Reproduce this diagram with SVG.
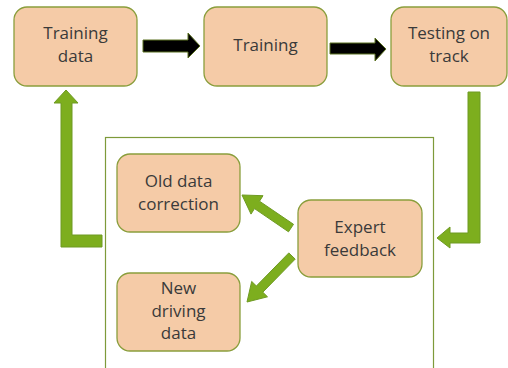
<svg xmlns="http://www.w3.org/2000/svg" width="508" height="368" viewBox="0 0 508 368">
<style>
.box{fill:#F5CBA7;stroke:#8A9E3C;stroke-width:1.3}
.t{font-family:"Open Sans","Noto Sans",sans-serif;font-size:17px;fill:#3A3A3A;text-anchor:middle}
.g{fill:#7DAE1E;stroke:#6E9A22;stroke-width:1}
.k{fill:#000;stroke:#5A7020;stroke-width:1}
</style>
<rect x="0" y="0" width="508" height="368" fill="#fff"/>
<rect id="container" x="105.5" y="137.5" width="328" height="240" fill="none" stroke="#7E9A3A" stroke-width="1.2"/>
<g id="connectors">
<polygon class="k" points="143,40 188,40 188,33 200,46 188,58 188,52 143,52"/>
<polygon class="k" points="330,43 375,43 375,38 386,49 375,61 375,54 330,54"/>
<polygon class="g" points="61,247 61,103 54,103 66,90 78,103 72,103 72,235 102,235 102,247"/>
<polygon class="g" points="468,92 480,92 480,243 450,243 450,248 437,238 450,227 450,233 468,233"/>
<polygon class="g" points="293.5,224.3 259.5,201.2 263,195.7 242,195 251,214.1 254.5,208.6 288.5,231.8"/>
<polygon class="g" points="295.2,259.1 262.8,292.2 267.5,296.8 247,302 251.7,281.4 256.4,286 288.8,252.9"/>
</g>
<g id="n1"><rect class="box" x="14" y="7" width="123" height="79" rx="13"/><text class="t" x="75.5" y="39">Training</text><text class="t" x="75.5" y="62">data</text></g>
<g id="n2"><rect class="box" x="204" y="7" width="123" height="79" rx="13"/><text class="t" x="265.5" y="51">Training</text></g>
<g id="n3"><rect class="box" x="391" y="7" width="116" height="79" rx="13"/><text class="t" x="449" y="39">Testing on</text><text class="t" x="449" y="62">track</text></g>
<g id="n4"><rect class="box" x="117" y="154" width="123" height="78" rx="13"/><text class="t" x="178.5" y="187">Old data</text><text class="t" x="178.5" y="210">correction</text></g>
<g id="n5"><rect class="box" x="298" y="200" width="124" height="77" rx="13"/><text class="t" x="360" y="233">Expert</text><text class="t" x="360" y="256">feedback</text></g>
<g id="n6"><rect class="box" x="117" y="273" width="123" height="78" rx="13"/><text class="t" x="178.5" y="294">New</text><text class="t" x="178.5" y="317">driving</text><text class="t" x="178.5" y="339">data</text></g>
</svg>
